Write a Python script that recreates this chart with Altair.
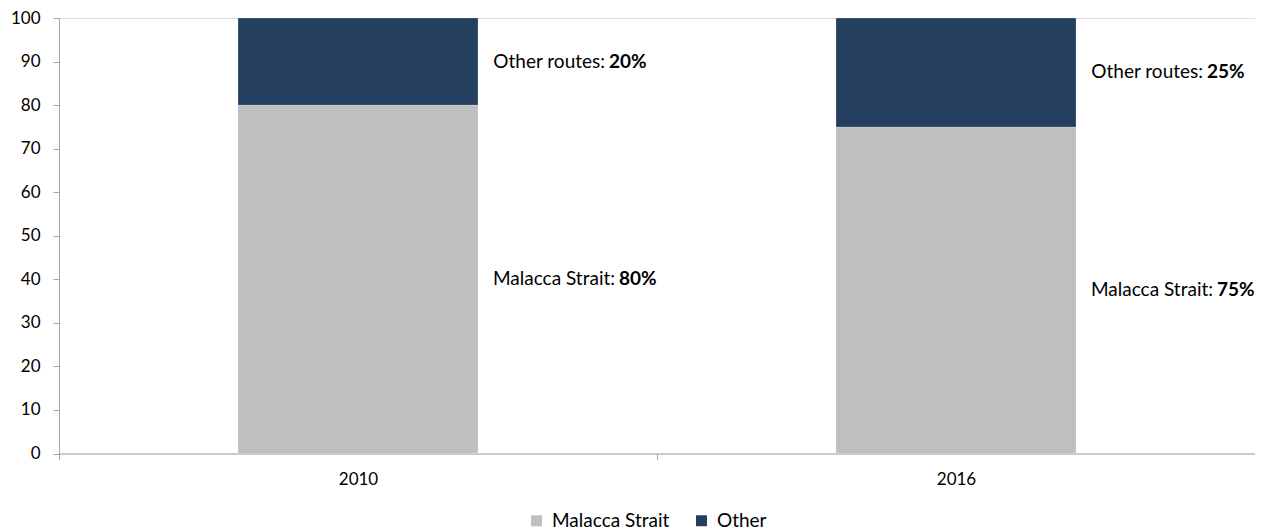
import altair as alt
import pandas as pd

years = ["2010", "2016"]
routes = ["Malacca Strait", "Other"]
malacca = [80, 75]
other = [20, 25]
label_names = {"Malacca Strait": "Malacca Strait:", "Other": "Other routes:"}
colors = ["#BFBFBF", "#253F60"]

rows = []
for i, y in enumerate(years):
    base = 0
    for j, (r, v) in enumerate(zip(routes, [malacca[i], other[i]])):
        rows.append({"year": y, "route": r, "value": v, "order": j,
                     "mid": base + v / 2,
                     "name": label_names[r], "pct": f"{v}%"})
        base += v
df = pd.DataFrame(rows)

FONT = "Lato"
W, H = 1196, 435.5

x_enc = alt.X("year:N", sort=years,
              scale=alt.Scale(paddingInner=0, paddingOuter=0),
              axis=alt.Axis(title=None, labelAngle=0, tickBand="extent",
                            domainColor="#A6A6A6", tickColor="#A6A6A6",
                            tickSize=6, labelPadding=12, labelFontSize=17,
                            labelColor="#000000", labelFont=FONT))

bars = alt.Chart(df).mark_bar(size=240, stroke="#FFFFFF", strokeWidth=0.5, strokeOpacity=0.4).encode(
    x=x_enc,
    y=alt.Y("value:Q", stack="zero",
            scale=alt.Scale(domain=[0, 100], nice=False),
            axis=alt.Axis(title=None, values=list(range(0, 101, 10)), grid=False,
                          domainColor="#A6A6A6", tickColor="#A6A6A6", tickSize=6,
                          labelPadding=13, labelFontSize=17, labelColor="#000000",
                          labelFont=FONT)),
    color=alt.Color("route:N", sort=routes,
                    scale=alt.Scale(domain=routes, range=colors),
                    legend=alt.Legend(title=None, orient="none", direction="horizontal",
                                      legendX=468, legendY=493, symbolType="square",
                                      symbolSize=121, symbolStrokeWidth=0,
                                      labelFontSize=19, labelFont=FONT,
                                      labelColor="#000000", columnPadding=22,
                                      labelOffset=6, padding=0)),
    order=alt.Order("order:Q"),
)

layers = [bars]
boundary = {"Malacca Strait": 261, "Other": 251}
for r in routes:
    sub = alt.Chart(df).transform_filter(alt.datum.route == r)
    layers.append(sub.mark_text(align="right", baseline="middle", dx=boundary[r] - 4,
                                fontSize=19, font=FONT, color="#000000").encode(
        x=alt.X("year:N", sort=years), y=alt.Y("mid:Q"), text="name:N"))
    layers.append(sub.mark_text(align="left", baseline="middle", dx=boundary[r],
                                fontSize=19, font=FONT, fontWeight="bold",
                                color="#000000").encode(
        x=alt.X("year:N", sort=years), y=alt.Y("mid:Q"), text="pct:N"))

chart = alt.layer(*layers).properties(
    width=W, height=H,
    autosize=alt.AutoSizeParams(type="none"),
    padding={"left": 51, "top": 10, "right": 0, "bottom": 92},
).configure_view(stroke=None).configure(font=FONT)

chart.save("out.html", embed_options={"renderer": "svg", "actions": False})
